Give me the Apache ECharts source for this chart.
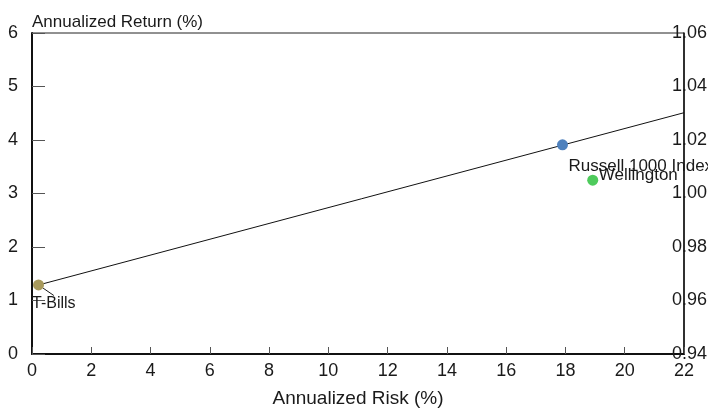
<!DOCTYPE html>
<html>
<head>
<meta charset="utf-8">
<script src="https://cdn.jsdelivr.net/npm/echarts@6/dist/echarts.min.js"></script>
<style>
  html, body { margin: 0; padding: 0; background: #fff; }
  #chart { width: 708px; height: 411px; }
</style>
</head>
<body>
<div id="chart"></div>
<script>
// Risk / return of each holding: [annualized risk %, annualized return %]
const names = ['T-Bills', 'Russell 1000 Index', 'Wellington'];
const risk = [0.22, 17.9, 18.92];
const ret = [1.29, 3.91, 3.25];
const colors = ['#a89a5c', '#4f81bd', '#4ecb5c'];

// Capital market line from the risk-free point out to the right edge
const cmlRisk = [0.22, 22];
const cmlReturn = [1.29, 4.51];

// Axis ranges
const xTicks = { min: 0, max: 22, interval: 2 };
const yTicks = { min: 0, max: 6, interval: 1 };
const y2Ticks = { min: 0.94, max: 1.06, interval: 0.02 };

const FONT = 'Liberation Sans, Arial, sans-serif';
const NARROW = 'Liberation Sans Narrow, Arial Narrow, sans-serif';

// Label placement for each point: [dx, dy] from the symbol's box corner
const labelPos = [[-1, 24], [11.5, 26.5], [11.5, 0.5]];

const pointData = names.map((n, i) => ({
  name: n,
  value: [risk[i], ret[i]],
  itemStyle: { color: colors[i], opacity: 1 },
  label: {
    show: true,
    formatter: n,
    position: labelPos[i],
    align: 'left',
    verticalAlign: 'middle',
    fontSize: i === 0 ? 16 : 17,
    color: '#1a1a1a',
    opacity: 1,
    fontFamily: FONT
  },
  labelLine: i === 0 ? { show: true, lineStyle: { color: '#1a1a1a', width: 1, opacity: 1 } } : { show: false }
}));

const chart = echarts.init(document.getElementById('chart'), null, { renderer: 'canvas' });

chart.setOption({
  animation: false,
  backgroundColor: '#ffffff',
  grid: {
    left: 32, right: 24, top: 33, bottom: 57,
    outerBoundsMode: 'none',
    containLabel: false,
    show: true, borderColor: '#222', borderWidth: 1
  },
  xAxis: {
    type: 'value',
    min: xTicks.min, max: xTicks.max, interval: xTicks.interval,
    name: 'Annualized Risk (%)',
    nameLocation: 'middle',
    nameGap: 35,
    nameTextStyle: { fontSize: 19, color: '#1a1a1a', fontFamily: FONT },
    axisLine: { show: true, onZero: false, lineStyle: { color: '#111', width: 2 } },
    axisTick: { show: true, inside: true, length: 7, lineStyle: { color: '#555', width: 1 } },
    axisLabel: { fontSize: 18, color: '#1a1a1a', margin: 8, fontFamily: NARROW },
    splitLine: { show: false }
  },
  yAxis: [
    {
      type: 'value',
      min: yTicks.min, max: yTicks.max, interval: yTicks.interval,
      name: 'Annualized Return (%)',
      nameLocation: 'end',
      nameGap: 11,
      nameTextStyle: { fontSize: 17, color: '#1a1a1a', align: 'left', verticalAlign: 'middle', fontFamily: FONT },
      axisLine: { show: true, onZero: false, lineStyle: { color: '#111', width: 2 } },
      axisTick: { show: true, inside: true, length: 13, lineStyle: { color: '#555', width: 1 } },
      axisLabel: { fontSize: 18, color: '#1a1a1a', margin: 14, padding: [0, 0, 11, 0], fontFamily: NARROW },
      splitLine: { show: false }
    },
    {
      type: 'value',
      position: 'right',
      min: y2Ticks.min, max: y2Ticks.max, interval: y2Ticks.interval,
      axisLine: { show: true, onZero: false, lineStyle: { color: '#111', width: 1.5 } },
      axisTick: { show: false },
      axisLabel: {
        fontSize: 18, color: '#1a1a1a', margin: -12, padding: [0, 0, 3, 0], fontFamily: NARROW,
        formatter: v => v.toFixed(2)
      },
      splitLine: { show: false }
    }
  ],
  series: [
    {
      type: 'line',
      data: cmlRisk.map((x, i) => [x, cmlReturn[i]]),
      symbol: 'none',
      lineStyle: { color: '#111', width: 1 },
      z: 1
    },
    {
      type: 'scatter',
      symbolSize: 11,
      data: pointData,
      z: 3
    }
  ]
});
</script>
</body>
</html>
